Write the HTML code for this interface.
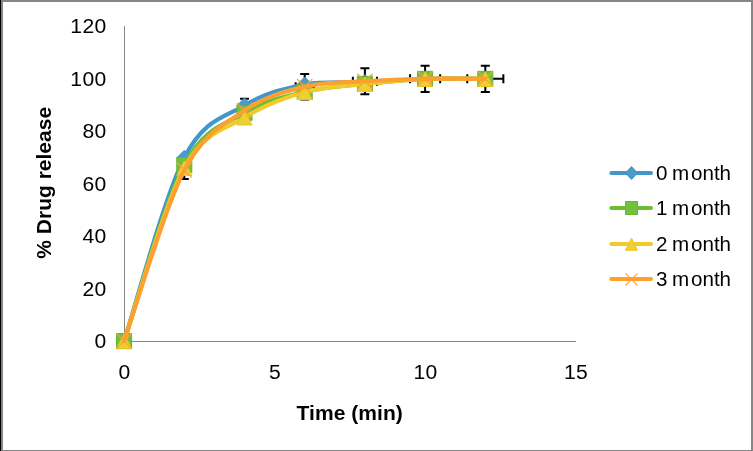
<!DOCTYPE html>
<html><head><meta charset="utf-8"><title>chart</title>
<style>
html,body{margin:0;padding:0;background:#fff;}
body{width:753px;height:451px;overflow:hidden;font-family:"Liberation Sans",sans-serif;}
svg{display:block;will-change:transform;}
text{font-family:"Liberation Sans",sans-serif;fill:#000;}
.t{font-size:21.1px;letter-spacing:0.45px;}
.b{font-size:21px;font-weight:bold;}
.l{font-size:20.6px;}
</style></head><body>
<svg width="753" height="451" viewBox="0 0 753 451">
<rect x="0" y="0" width="753" height="451" fill="#fff"/>
<!-- frame -->
<rect x="0" y="0" width="753" height="2" fill="#868686"/>
<rect x="751" y="0" width="2" height="451" fill="#868686"/>
<rect x="0" y="450" width="753" height="1" fill="#868686"/>
<rect x="1" y="0" width="2" height="451" fill="#868686"/>
<rect x="0" y="0" width="1" height="451" fill="#000"/>

<rect x="124" y="26" width="1" height="316" fill="#868686"/>
<rect x="124" y="341" width="452" height="1" fill="#868686"/>
<text class="t" x="106.8" y="348.1" text-anchor="end">0</text>
<text class="t" x="106.8" y="295.7" text-anchor="end">20</text>
<text class="t" x="106.8" y="243.2" text-anchor="end">40</text>
<text class="t" x="106.8" y="190.8" text-anchor="end">60</text>
<text class="t" x="106.8" y="138.3" text-anchor="end">80</text>
<text class="t" x="106.8" y="85.8" text-anchor="end">100</text>
<text class="t" x="106.8" y="33.4" text-anchor="end">120</text>
<text class="t" x="124.6" y="379.2" text-anchor="middle">0</text>
<text class="t" x="275.1" y="379.2" text-anchor="middle">5</text>
<text class="t" x="425.6" y="379.2" text-anchor="middle">10</text>
<text class="t" x="576.1" y="379.2" text-anchor="middle">15</text>
<text class="b" x="349.7" y="419.8" text-anchor="middle" letter-spacing="0.05">Time (min)</text>
<text class="b" transform="translate(51.1,182.8) rotate(-90)" text-anchor="middle">% Drug release</text>
<path d="M181.29,170.45 L187.31,170.45 M181.29,165.95 L181.29,174.95 M187.31,165.95 L187.31,174.95 M184.30,161.92 L184.30,178.99 M179.80,161.92 L188.80,161.92 M179.80,178.99 L188.80,178.99" stroke="#000" stroke-width="2" fill="none"/>
<path d="M238.48,110.32 L250.52,110.32 M238.48,105.82 L238.48,114.82 M250.52,105.82 L250.52,114.82 M244.50,98.78 L244.50,121.86 M240.00,98.78 L249.00,98.78 M240.00,121.86 L249.00,121.86" stroke="#000" stroke-width="2" fill="none"/>
<path d="M295.67,86.72 L313.73,86.72 M295.67,82.22 L295.67,91.22 M313.73,82.22 L313.73,91.22 M304.70,74.00 L304.70,99.44 M300.20,74.00 L309.20,74.00 M300.20,99.44 L309.20,99.44" stroke="#000" stroke-width="2" fill="none"/>
<path d="M352.86,81.21 L376.94,81.21 M352.86,76.71 L352.86,85.71 M376.94,76.71 L376.94,85.71 M364.90,68.22 L364.90,94.20 M360.40,68.22 L369.40,68.22 M360.40,94.20 L369.40,94.20" stroke="#000" stroke-width="2" fill="none"/>
<path d="M410.05,78.85 L440.15,78.85 M410.05,74.35 L410.05,83.35 M440.15,74.35 L440.15,83.35 M425.10,65.74 L425.10,91.96 M420.60,65.74 L429.60,65.74 M420.60,91.96 L429.60,91.96" stroke="#000" stroke-width="2" fill="none"/>
<path d="M467.24,78.85 L503.36,78.85 M467.24,74.35 L467.24,83.35 M503.36,74.35 L503.36,83.35 M485.30,65.74 L485.30,91.96 M480.80,65.74 L489.80,65.74 M480.80,91.96 L489.80,91.96" stroke="#000" stroke-width="2" fill="none"/>
<g>
<path d="M124.10,341.10 C134.13,310.55 164.23,197.06 184.30,157.79 C204.37,118.52 224.43,117.68 244.50,105.47 C264.57,93.25 284.63,88.38 304.70,84.49 C324.77,80.60 344.83,83.07 364.90,82.13 C384.97,81.19 405.03,79.40 425.10,78.85 C445.17,78.30 475.27,78.85 485.30,78.85" stroke="#4197cb" stroke-width="4.2" fill="none" stroke-linecap="round" stroke-linejoin="round"/>
<path d="M124.10,333.60 L131.60,341.10 L124.10,348.60 L116.60,341.10 Z" fill="#4b9aca" stroke="#3c92c8" stroke-width="1" stroke-linejoin="miter"/>
<path d="M184.30,150.29 L191.80,157.79 L184.30,165.29 L176.80,157.79 Z" fill="#4b9aca" stroke="#3c92c8" stroke-width="1" stroke-linejoin="miter"/>
<path d="M244.50,97.97 L252.00,105.47 L244.50,112.97 L237.00,105.47 Z" fill="#4b9aca" stroke="#3c92c8" stroke-width="1" stroke-linejoin="miter"/>
<path d="M304.70,76.99 L312.20,84.49 L304.70,91.99 L297.20,84.49 Z" fill="#4b9aca" stroke="#3c92c8" stroke-width="1" stroke-linejoin="miter"/>
<path d="M364.90,74.63 L372.40,82.13 L364.90,89.63 L357.40,82.13 Z" fill="#4b9aca" stroke="#3c92c8" stroke-width="1" stroke-linejoin="miter"/>
<path d="M425.10,71.35 L432.60,78.85 L425.10,86.35 L417.60,78.85 Z" fill="#4b9aca" stroke="#3c92c8" stroke-width="1" stroke-linejoin="miter"/>
<path d="M485.30,71.35 L492.80,78.85 L485.30,86.35 L477.80,78.85 Z" fill="#4b9aca" stroke="#3c92c8" stroke-width="1" stroke-linejoin="miter"/>
</g>
<g>
<path d="M124.10,341.10 C134.13,311.75 164.23,203.05 184.30,165.00 C204.37,126.95 224.43,125.01 244.50,112.81 C264.57,100.62 284.63,96.66 304.70,91.83 C324.77,87.00 344.83,86.00 364.90,83.83 C384.97,81.67 405.03,79.68 425.10,78.85 C445.17,78.02 475.27,78.85 485.30,78.85" stroke="#6dbd33" stroke-width="4.2" fill="none" stroke-linecap="round" stroke-linejoin="round"/>
<rect x="116.60" y="333.60" width="15.00" height="15.00" fill="#73c040" stroke="#61b629" stroke-width="1"/>
<rect x="176.80" y="157.50" width="15.00" height="15.00" fill="#73c040" stroke="#61b629" stroke-width="1"/>
<rect x="237.00" y="105.31" width="15.00" height="15.00" fill="#73c040" stroke="#61b629" stroke-width="1"/>
<rect x="297.20" y="84.33" width="15.00" height="15.00" fill="#73c040" stroke="#61b629" stroke-width="1"/>
<rect x="357.40" y="76.33" width="15.00" height="15.00" fill="#73c040" stroke="#61b629" stroke-width="1"/>
<rect x="417.60" y="71.35" width="15.00" height="15.00" fill="#73c040" stroke="#61b629" stroke-width="1"/>
<rect x="477.80" y="71.35" width="15.00" height="15.00" fill="#73c040" stroke="#61b629" stroke-width="1"/>
</g>
<g>
<path d="M124.10,341.10 C134.13,312.25 164.23,205.28 184.30,168.01 C204.37,130.75 224.43,130.19 244.50,117.53 C264.57,104.88 284.63,97.69 304.70,92.09 C324.77,86.50 344.83,86.17 364.90,83.96 C384.97,81.76 405.03,79.70 425.10,78.85 C445.17,78.00 475.27,78.85 485.30,78.85" stroke="#efcb2b" stroke-width="4.2" fill="none" stroke-linecap="round" stroke-linejoin="round"/>
<path d="M124.10,334.20 L131.60,348.60 L116.60,348.60 Z" fill="#f0cf36" stroke="#ecc71f" stroke-width="1" stroke-linejoin="miter"/>
<path d="M184.30,161.11 L191.80,175.51 L176.80,175.51 Z" fill="#f0cf36" stroke="#ecc71f" stroke-width="1" stroke-linejoin="miter"/>
<path d="M244.50,110.63 L252.00,125.03 L237.00,125.03 Z" fill="#f0cf36" stroke="#ecc71f" stroke-width="1" stroke-linejoin="miter"/>
<path d="M304.70,85.19 L312.20,99.59 L297.20,99.59 Z" fill="#f0cf36" stroke="#ecc71f" stroke-width="1" stroke-linejoin="miter"/>
<path d="M364.90,77.06 L372.40,91.46 L357.40,91.46 Z" fill="#f0cf36" stroke="#ecc71f" stroke-width="1" stroke-linejoin="miter"/>
<path d="M425.10,71.95 L432.60,86.35 L417.60,86.35 Z" fill="#f0cf36" stroke="#ecc71f" stroke-width="1" stroke-linejoin="miter"/>
<path d="M485.30,71.95 L492.80,86.35 L477.80,86.35 Z" fill="#f0cf36" stroke="#ecc71f" stroke-width="1" stroke-linejoin="miter"/>
</g>
<g>
<path d="M124.10,341.10 C134.13,312.60 164.23,208.53 184.30,170.11 C204.37,131.69 224.43,124.50 244.50,110.58 C264.57,96.66 284.63,91.46 304.70,86.59 C324.77,81.71 344.83,82.63 364.90,81.34 C384.97,80.05 405.03,79.27 425.10,78.85 C445.17,78.43 475.27,78.85 485.30,78.85" stroke="#fca130" stroke-width="4.2" fill="none" stroke-linecap="round" stroke-linejoin="round"/>
<path d="M116.50,333.50 L131.70,348.70 M116.50,348.70 L131.70,333.50" stroke="#fca130" stroke-width="1.1" fill="none"/>
<path d="M176.70,162.51 L191.90,177.71 M176.70,177.71 L191.90,162.51" stroke="#fca130" stroke-width="1.1" fill="none"/>
<path d="M236.90,102.98 L252.10,118.18 M236.90,118.18 L252.10,102.98" stroke="#fca130" stroke-width="1.1" fill="none"/>
<path d="M297.10,78.99 L312.30,94.19 M297.10,94.19 L312.30,78.99" stroke="#fca130" stroke-width="1.1" fill="none"/>
<path d="M357.30,73.74 L372.50,88.94 M357.30,88.94 L372.50,73.74" stroke="#fca130" stroke-width="1.1" fill="none"/>
<path d="M417.50,71.25 L432.70,86.45 M417.50,86.45 L432.70,71.25" stroke="#fca130" stroke-width="1.1" fill="none"/>
<path d="M477.70,71.25 L492.90,86.45 M477.70,86.45 L492.90,71.25" stroke="#fca130" stroke-width="1.1" fill="none"/>
</g>
<path d="M611.3,173 L651,173" stroke="#4197cb" stroke-width="4.0" stroke-linecap="round"/>
<path d="M631.50,166.60 L637.45,173.00 L631.50,179.40 L625.55,173.00 Z" fill="#4b9aca" stroke="#3c92c8" stroke-width="1" stroke-linejoin="miter"/>
<text class="l" x="655.90 667.80 671.97 690.90 702.50 713.90 719.60" y="180.3">0 month</text>
<path d="M611.3,208 L651,208" stroke="#6dbd33" stroke-width="4.0" stroke-linecap="round"/>
<rect x="625.55" y="201.60" width="11.90" height="12.80" fill="#73c040" stroke="#61b629" stroke-width="1"/>
<text class="l" x="655.90 667.80 671.97 690.90 702.50 713.90 719.60" y="215.3">1 month</text>
<path d="M611.3,244 L651,244" stroke="#efcb2b" stroke-width="4.0" stroke-linecap="round"/>
<path d="M631.50,238.10 L637.45,250.30 L625.55,250.30 Z" fill="#f0cf36" stroke="#ecc71f" stroke-width="1" stroke-linejoin="miter"/>
<text class="l" x="655.90 667.80 671.97 690.90 702.50 713.90 719.60" y="251.3">2 month</text>
<path d="M611.3,279 L651,279" stroke="#fca130" stroke-width="4.0" stroke-linecap="round"/>
<path d="M625.40,273.30 L637.60,285.50 M625.40,285.50 L637.60,273.30" stroke="#fca130" stroke-width="1.1" fill="none"/>
<text class="l" x="655.90 667.80 671.97 690.90 702.50 713.90 719.60" y="286.3">3 month</text>
</svg></body></html>
